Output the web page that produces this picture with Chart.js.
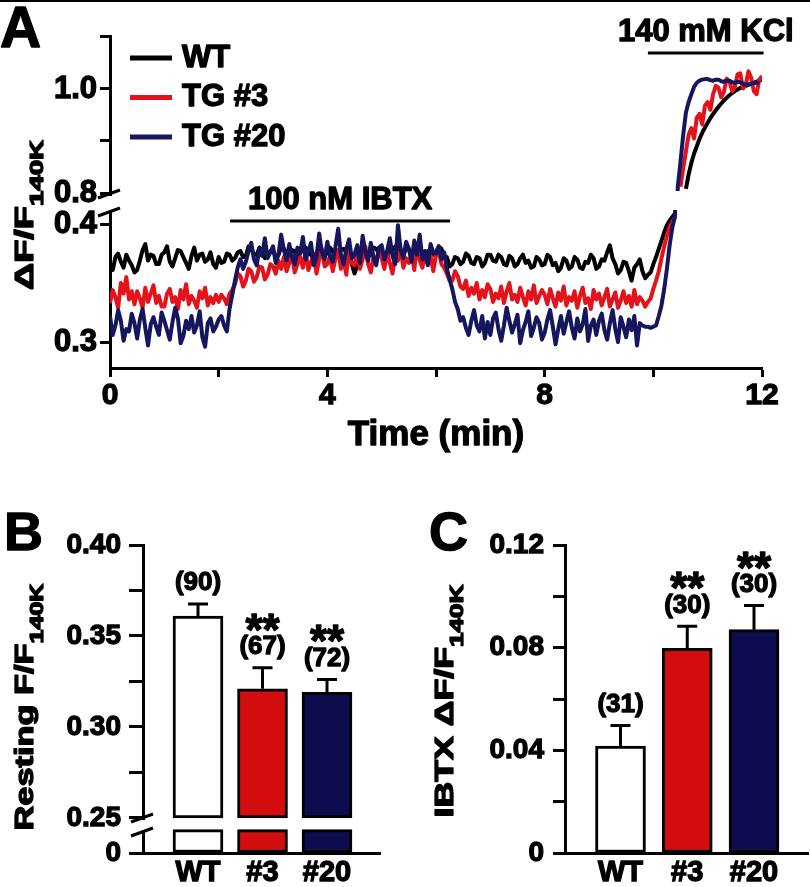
<!DOCTYPE html>
<html lang="en">
<head>
<meta charset="utf-8">
<title>IBTX response</title>
<script src="https://cdn.jsdelivr.net/npm/chart.js@4.4.1/dist/chart.umd.min.js"></script>
<style>
  html, body { margin: 0; padding: 0; background: #fff; }
  body { position: relative; width: 810px; height: 887px; overflow: hidden; }
  .top-rule { position: absolute; left: 0; top: 0; width: 810px; height: 2px; background: #000; }
  canvas { position: absolute; }
  #trace-chart { left: 0; top: 0; }
  #resting-chart { left: 0; top: 500px; }
  #ibtx-chart { left: 405px; top: 500px; }
</style>
</head>
<body>
<div class="top-rule"></div>
<canvas id="trace-chart" width="810" height="460"></canvas>
<canvas id="resting-chart" width="405" height="387"></canvas>
<canvas id="ibtx-chart" width="405" height="387"></canvas>
<script>
// --- panel A: traces, one reading every 0.05 min (null = inside the axis break) ---
const sampleTimes = [
  0.00, 0.05, 0.10, 0.15, 0.20, 0.25, 0.30, 0.35, 0.40, 0.45,
  0.50, 0.55, 0.60, 0.65, 0.70, 0.75, 0.80, 0.85, 0.90, 0.95,
  1.00, 1.05, 1.10, 1.15, 1.20, 1.25, 1.30, 1.35, 1.40, 1.45,
  1.50, 1.55, 1.60, 1.65, 1.70, 1.75, 1.80, 1.85, 1.90, 1.95,
  2.00, 2.05, 2.10, 2.15, 2.20, 2.25, 2.30, 2.35, 2.40, 2.45,
  2.50, 2.55, 2.60, 2.65, 2.70, 2.75, 2.80, 2.85, 2.90, 2.95,
  3.00, 3.05, 3.10, 3.15, 3.20, 3.25, 3.30, 3.35, 3.40, 3.45,
  3.50, 3.55, 3.60, 3.65, 3.70, 3.75, 3.80, 3.85, 3.90, 3.95,
  4.00, 4.05, 4.10, 4.15, 4.20, 4.25, 4.30, 4.35, 4.40, 4.45,
  4.50, 4.55, 4.60, 4.65, 4.70, 4.75, 4.80, 4.85, 4.90, 4.95,
  5.00, 5.05, 5.10, 5.15, 5.20, 5.25, 5.30, 5.35, 5.40, 5.45,
  5.50, 5.55, 5.60, 5.65, 5.70, 5.75, 5.80, 5.85, 5.90, 5.95,
  6.00, 6.05, 6.10, 6.15, 6.20, 6.25, 6.30, 6.35, 6.40, 6.45,
  6.50, 6.55, 6.60, 6.65, 6.70, 6.75, 6.80, 6.85, 6.90, 6.95,
  7.00, 7.05, 7.10, 7.15, 7.20, 7.25, 7.30, 7.35, 7.40, 7.45,
  7.50, 7.55, 7.60, 7.65, 7.70, 7.75, 7.80, 7.85, 7.90, 7.95,
  8.00, 8.05, 8.10, 8.15, 8.20, 8.25, 8.30, 8.35, 8.40, 8.45,
  8.50, 8.55, 8.60, 8.65, 8.70, 8.75, 8.80, 8.85, 8.90, 8.95,
  9.00, 9.05, 9.10, 9.15, 9.20, 9.25, 9.30, 9.35, 9.40, 9.45,
  9.50, 9.55, 9.60, 9.65, 9.70, 9.75, 9.80, 9.85, 9.90, 9.95,
  10.00, 10.05, 10.10, 10.15, 10.20, 10.25, 10.30, 10.35, 10.40, 10.45,
  10.50, 10.55, 10.60, 10.65, 10.70, 10.75, 10.80, 10.85, 10.90, 10.95,
  11.00, 11.05, 11.10, 11.15, 11.20, 11.25, 11.30, 11.35, 11.40, 11.45,
  11.50, 11.55, 11.60, 11.65, 11.70, 11.75, 11.80, 11.85, 11.90, 11.95,
  12.00
];
const wtTrace = [
  0.366, 0.361, 0.372, 0.375, 0.368, 0.363, 0.374, 0.369, 0.365, 0.359,
  0.361, 0.369, 0.378, 0.383, 0.369, 0.374, 0.373, 0.366, 0.366, 0.374,
  0.376, 0.381, 0.368, 0.364, 0.371, 0.378, 0.377, 0.372, 0.367, 0.362,
  0.373, 0.380, 0.369, 0.374, 0.375, 0.368, 0.370, 0.376, 0.366, 0.363,
  0.372, 0.367, 0.368, 0.375, 0.374, 0.369, 0.371, 0.376, 0.377, 0.372,
  0.373, 0.381, 0.379, 0.374, 0.374, 0.380, 0.376, 0.371, 0.372, 0.377,
  0.378, 0.372, 0.374, 0.380, 0.379, 0.375, 0.373, 0.378, 0.377, 0.371,
  0.375, 0.381, 0.380, 0.376, 0.374, 0.369, 0.372, 0.377, 0.378, 0.374,
  0.375, 0.380, 0.377, 0.372, 0.373, 0.378, 0.379, 0.376, 0.374, 0.366,
  0.358, 0.365, 0.372, 0.378, 0.377, 0.373, 0.374, 0.380, 0.379, 0.375,
  0.375, 0.370, 0.373, 0.377, 0.378, 0.381, 0.376, 0.372, 0.374, 0.379,
  0.379, 0.374, 0.375, 0.380, 0.377, 0.371, 0.373, 0.377, 0.378, 0.374,
  0.376, 0.381, 0.379, 0.373, 0.372, 0.364, 0.366, 0.372, 0.371, 0.366,
  0.368, 0.375, 0.373, 0.367, 0.366, 0.372, 0.371, 0.364, 0.367, 0.374,
  0.374, 0.369, 0.368, 0.374, 0.372, 0.366, 0.365, 0.373, 0.371, 0.364,
  0.366, 0.371, 0.374, 0.367, 0.369, 0.363, 0.364, 0.372, 0.370, 0.365,
  0.366, 0.374, 0.372, 0.365, 0.367, 0.360, 0.363, 0.371, 0.369, 0.362,
  0.364, 0.372, 0.370, 0.363, 0.362, 0.368, 0.367, 0.374, 0.371, 0.362,
  0.364, 0.370, 0.369, 0.376, 0.382, 0.371, 0.366, 0.358, 0.361, 0.368,
  0.367, 0.360, 0.352, 0.363, 0.366, 0.370, 0.360, 0.354, 0.357, 0.359,
  0.366, 0.372, 0.379, 0.386, 0.393, 0.399, 0.403, 0.406, 0.409, null,
  null, null, 0.808, 0.836, 0.858, 0.876, 0.890, 0.904, 0.916, 0.926,
  0.935, 0.944, 0.952, 0.959, 0.966, 0.972, 0.978, 0.983, 0.988, 0.992,
  0.996, 0.999, 1.002, 1.004, 1.006, 1.008, 1.010, 1.012, 1.014, 1.016,
  1.018
];
const tg3Trace = [
  0.333, 0.344, 0.338, 0.329, 0.350, 0.341, 0.355, 0.336, 0.343, 0.332,
  0.343, 0.337, 0.329, 0.346, 0.334, 0.341, 0.348, 0.333, 0.339, 0.330,
  0.330, 0.341, 0.345, 0.334, 0.338, 0.328, 0.344, 0.336, 0.349, 0.332,
  0.339, 0.335, 0.329, 0.343, 0.337, 0.346, 0.331, 0.338, 0.333, 0.340,
  0.334, 0.340, 0.337, 0.332, 0.341, 0.344, 0.349, 0.358, 0.356, 0.347,
  0.352, 0.362, 0.360, 0.351, 0.355, 0.364, 0.363, 0.353, 0.357, 0.366,
  0.364, 0.358, 0.369, 0.362, 0.372, 0.360, 0.367, 0.374, 0.359, 0.366,
  0.372, 0.363, 0.377, 0.361, 0.368, 0.375, 0.358, 0.370, 0.379, 0.364,
  0.366, 0.373, 0.360, 0.371, 0.378, 0.362, 0.369, 0.357, 0.380, 0.367,
  0.365, 0.374, 0.362, 0.370, 0.381, 0.366, 0.359, 0.373, 0.368, 0.377,
  0.371, 0.362, 0.376, 0.367, 0.358, 0.374, 0.369, 0.379, 0.363, 0.371,
  0.367, 0.375, 0.361, 0.383, 0.369, 0.363, 0.376, 0.366, 0.373, 0.360,
  0.374, 0.377, 0.366, 0.363, 0.358, 0.352, 0.352, 0.360, 0.356, 0.347,
  0.345, 0.352, 0.339, 0.346, 0.341, 0.350, 0.336, 0.344, 0.338, 0.349,
  0.345, 0.334, 0.341, 0.337, 0.347, 0.333, 0.343, 0.350, 0.336, 0.340,
  0.334, 0.346, 0.338, 0.331, 0.343, 0.336, 0.348, 0.333, 0.339, 0.344,
  0.340, 0.332, 0.345, 0.337, 0.330, 0.342, 0.335, 0.347, 0.331, 0.338,
  0.335, 0.343, 0.329, 0.339, 0.346, 0.333, 0.337, 0.328, 0.344, 0.336,
  0.341, 0.331, 0.338, 0.345, 0.330, 0.336, 0.342, 0.329, 0.335, 0.343,
  0.333, 0.339, 0.330, 0.344, 0.332, 0.338, 0.335, 0.330, 0.334, 0.337,
  0.345, 0.352, 0.360, 0.371, 0.381, 0.390, 0.397, 0.402, 0.406, null,
  0.812, 0.848, 0.880, 0.912, 0.925, 0.905, 0.945, 0.952, 0.932, 0.968,
  0.975, 0.960, 0.990, 1.006, 1.002, 0.984, 0.995, 1.020, 1.015, 0.996,
  1.004, 1.028, 1.030, 1.001, 1.008, 1.034, 1.022, 0.996, 0.990, 1.018,
  1.025
];
const tg20Trace = [
  0.322, 0.306, 0.314, 0.327, 0.318, 0.301, 0.311, 0.309, 0.324, 0.316,
  0.303, 0.319, 0.328, 0.312, 0.297, 0.315, 0.321, 0.313, 0.306, 0.325,
  0.318, 0.310, 0.302, 0.317, 0.329, 0.320, 0.299, 0.305, 0.318, 0.311,
  0.322, 0.308, 0.314, 0.326, 0.304, 0.296, 0.316, 0.320, 0.309, 0.313,
  0.319, 0.322, 0.314, 0.309, 0.328, 0.340, 0.352, 0.363, 0.370, 0.362,
  0.368, 0.377, 0.384, 0.370, 0.365, 0.379, 0.373, 0.388, 0.371, 0.376,
  0.381, 0.367, 0.374, 0.391, 0.378, 0.369, 0.383, 0.372, 0.366, 0.380,
  0.375, 0.389, 0.370, 0.377, 0.384, 0.365, 0.372, 0.392, 0.376, 0.370,
  0.385, 0.373, 0.368, 0.381, 0.396, 0.374, 0.366, 0.379, 0.387, 0.371,
  0.374, 0.382, 0.367, 0.390, 0.376, 0.369, 0.384, 0.372, 0.365, 0.380,
  0.382, 0.370, 0.377, 0.388, 0.373, 0.366, 0.399, 0.378, 0.371, 0.385,
  0.379, 0.368, 0.386, 0.374, 0.391, 0.370, 0.377, 0.365, 0.383, 0.376,
  0.375, 0.381, 0.370, 0.376, 0.362, 0.353, 0.345, 0.334, 0.328, 0.318,
  0.321, 0.312, 0.306, 0.318, 0.327, 0.314, 0.309, 0.322, 0.303, 0.317,
  0.306, 0.320, 0.325, 0.311, 0.301, 0.314, 0.329, 0.318, 0.308, 0.315,
  0.323, 0.299, 0.310, 0.317, 0.326, 0.305, 0.312, 0.321, 0.316, 0.302,
  0.308, 0.319, 0.327, 0.313, 0.298, 0.311, 0.322, 0.307, 0.317, 0.326,
  0.312, 0.303, 0.320, 0.309, 0.315, 0.328, 0.301, 0.314, 0.319, 0.306,
  0.318, 0.324, 0.310, 0.302, 0.316, 0.327, 0.311, 0.300, 0.321, 0.313,
  0.304, 0.319, 0.310, 0.322, 0.297, 0.316, 0.314, 0.313, 0.313, 0.312,
  0.313, 0.314, 0.322, 0.331, 0.345, 0.362, 0.382, 0.397, 0.407, 0.812,
  0.860, 0.912, 0.955, 0.975, 0.990, 1.004, 1.012, 1.016, 1.018, 1.019,
  1.019, 1.017, 1.016, 1.018, 1.018, 1.015, 1.014, 1.016, 1.016, 1.013,
  1.012, 1.014, 1.013, 1.010, 1.008, 1.009, 1.010, 1.012, 1.012, 1.011,
  null
];
const traceNames = ['WT', 'TG #3', 'TG #20'];
const timeTicks = [0, 2, 4, 6, 8, 10, 12];
const timeLabels = [0, 4, 8, 12];
const lowerTicks = [0.3, 0.4];
const upperTicks = [0.8, 0.9, 1.0, 1.1];
const upperLabels = [0.8, 1.0];
const treatments = [
  { label: '100 nM IBTX', start: 2.21, end: 6.26, level: 0.4025, axis: 'yLow' },
  { label: '140 mM KCl', start: 9.9, end: 12.03, level: 1.069, axis: 'yHigh' }
];

// --- panels B and C ---
const groups = ['WT', '#3', '#20'];
const restingMean = [0.361, 0.321, 0.319];
const restingSem = [0.0066, 0.0116, 0.0071];
const restingN = [90, 67, 72];
const restingStars = ['', '**', '**'];
const restingBreak = 0.25;
const restingTicks = [0.25, 0.275, 0.30, 0.325, 0.35, 0.375, 0.40];
const restingLabels = [0.25, 0.30, 0.35, 0.40];

const ibtxMean = [0.0417, 0.0797, 0.0870];
const ibtxSem = [0.0080, 0.0086, 0.0094];
const ibtxN = [31, 30, 30];
const ibtxStars = ['', '**', '**'];
const ibtxTicks = [0, 0.02, 0.04, 0.06, 0.08, 0.10, 0.12];
const ibtxLabels = [0, 0.04, 0.08, 0.12];

const colors = { wt: '#000000', tg3: '#e3121b', tg20: '#16165e' };
const barColors = ['#ffffff', '#d30d0d', '#0c0c4e'];

const FONT = "'Liberation Sans', Arial, sans-serif";
const STROKE = 1.3;   // makes the bold face a bit heavier, like the figure
Chart.defaults.font.family = FONT;
Chart.defaults.font.weight = 'bold';
Chart.defaults.color = '#000';

const font = (size) => ({ family: FONT, size, weight: 'bold' });

function drawText(ctx, text, x, y, size, align = 'center', baseline = 'middle') {
  ctx.save();
  ctx.font = `bold ${size}px ${FONT}`;
  ctx.fillStyle = '#000';
  ctx.strokeStyle = '#000';
  ctx.lineWidth = STROKE;
  ctx.lineJoin = 'round';
  ctx.textAlign = align;
  ctx.textBaseline = baseline;
  ctx.strokeText(text, x, y);
  ctx.fillText(text, x, y);
  ctx.restore();
}

// rotated axis title with a subscript, stretched to the given length
function drawVerticalTitle(ctx, main, sub, baselineX, centerY, length, mainSize, subSize) {
  ctx.save();
  ctx.fillStyle = '#000';
  ctx.strokeStyle = '#000';
  ctx.lineWidth = STROKE;
  ctx.lineJoin = 'round';
  ctx.textAlign = 'left';
  ctx.textBaseline = 'alphabetic';
  ctx.font = `bold ${mainSize}px ${FONT}`;
  const wMain = ctx.measureText(main).width;
  ctx.font = `bold ${subSize}px ${FONT}`;
  const wSub = ctx.measureText(sub).width;
  const stretch = length / (wMain + wSub);
  ctx.translate(baselineX, centerY);
  ctx.rotate(-Math.PI / 2);
  ctx.scale(stretch, 1);
  const start = -(wMain + wSub) / 2;
  ctx.font = `bold ${mainSize}px ${FONT}`;
  ctx.strokeText(main, start, 0);
  ctx.fillText(main, start, 0);
  ctx.font = `bold ${subSize}px ${FONT}`;
  ctx.strokeText(sub, start + wMain, 10);
  ctx.fillText(sub, start + wMain, 10);
  ctx.restore();
}

const labelIf = (list, digits) => (v) =>
  list.some(l => Math.abs(l - v) < 1e-9) ? (v === 0 ? '0' : v.toFixed(digits)) : '';

const tickFont = size => ({ font: font(size), textStrokeColor: '#000', textStrokeWidth: STROKE });

function yAxis({ min, max, ticks, labels, digits, width, size, tickLength, padding, stack, stackWeight }) {
  return {
    type: 'linear',
    position: 'left',
    min, max, stack, stackWeight,
    afterBuildTicks: s => { s.ticks = ticks.map(value => ({ value })); },
    afterFit: s => { s.width = width; },
    ticks: { callback: labelIf(labels, digits), ...tickFont(size), padding, autoSkip: false },
    grid: { drawOnChartArea: false, tickLength, tickWidth: 3, tickColor: '#000' },
    border: { color: '#000', width: 3 }
  };
}

// each stacked y segment only shows its own part of a line
function segmentClip(insets) {
  return {
    id: 'segmentClip',
    beforeDatasetDraw(chart, args) {
      const ds = chart.data.datasets[args.index];
      const inset = insets[ds.yAxisID];
      if (!inset) return;
      const s = chart.scales[ds.yAxisID];
      const ctx = chart.ctx;
      ctx.save();
      ctx.beginPath();
      ctx.rect(0, s.top + inset[0], chart.width, s.bottom - s.top - inset[0] - inset[1]);
      ctx.clip();
    },
    afterDatasetDraw(chart, args) {
      const ds = chart.data.datasets[args.index];
      if (insets[ds.yAxisID]) chart.ctx.restore();
    }
  };
}

function axisBreak(upperId, half) {
  return {
    id: 'axisBreak',
    afterDraw(chart) {
      const { ctx } = chart;
      const x = chart.chartArea.left;
      const y = chart.scales[upperId].bottom;
      ctx.save();
      ctx.fillStyle = '#fff';
      ctx.fillRect(x - 4, y - half + 2, 8, 2 * half - 4);
      ctx.strokeStyle = '#000';
      ctx.lineWidth = 3;
      [-half, half].forEach(d => {
        ctx.beginPath();
        ctx.moveTo(x - 12, y + d + 4);
        ctx.lineTo(x + 10, y + d - 4);
        ctx.stroke();
      });
      ctx.restore();
    }
  };
}

function statsMarks(axisId, means, sems, counts, stars) {
  return {
    id: 'statsMarks',
    afterDatasetsDraw(chart) {
      const { ctx, scales } = chart;
      const xs = scales.x, ys = scales[axisId];
      ctx.save();
      ctx.strokeStyle = '#000';
      ctx.lineWidth = 3;
      means.forEach((m, i) => {
        const px = xs.getPixelForValue(i + 1);
        const top = ys.getPixelForValue(m + sems[i]);
        const base = ys.getPixelForValue(m);
        ctx.beginPath();
        ctx.moveTo(px, base);
        ctx.lineTo(px, top);
        ctx.moveTo(px - 10, top);
        ctx.lineTo(px + 10, top);
        ctx.stroke();
        drawText(ctx, `(${counts[i]})`, px, top - 21, 26);
        if (stars[i]) drawText(ctx, stars[i], px, top - 23, 44, 'center', 'alphabetic');
      });
      ctx.restore();
    }
  };
}

// ---------- A ----------
const tracePoints = values => sampleTimes.map((t, i) => ({ x: t, y: values[i] }));
const traceSets = (label, values, color, order) => ['yLow', 'yHigh'].map(axis => ({
  label,
  data: tracePoints(values),
  yAxisID: axis,
  borderColor: color,
  borderWidth: 4,
  borderJoinStyle: 'round',
  pointRadius: 0,
  tension: 0,
  spanGaps: false,
  order
}));

const traceDecor = {
  id: 'traceDecor',
  afterDraw(chart) {
    const { ctx, scales, chartArea } = chart;
    drawText(ctx, 'A', 0, 47, 57, 'left', 'alphabetic');

    const lx = chartArea.left + 20;
    [colors.wt, colors.tg3, colors.tg20].forEach((c, i) => {
      const y = 58 + i * 39.5;
      ctx.save();
      ctx.strokeStyle = c;
      ctx.lineWidth = 5;
      ctx.beginPath();
      ctx.moveTo(lx, y);
      ctx.lineTo(lx + 42, y);
      ctx.stroke();
      ctx.restore();
      drawText(ctx, traceNames[i], lx + 52, y, 31, 'left');
    });

    treatments.forEach(t => {
      const y = scales[t.axis].getPixelForValue(t.level);
      const x1 = scales.x.getPixelForValue(t.start);
      const x2 = scales.x.getPixelForValue(t.end);
      ctx.save();
      ctx.strokeStyle = '#000';
      ctx.lineWidth = 3;
      ctx.beginPath();
      ctx.moveTo(x1, y);
      ctx.lineTo(x2, y);
      ctx.stroke();
      ctx.restore();
      drawText(ctx, t.label, (x1 + x2) / 2, y - 21, 31);
    });

    drawText(ctx, 'Time (min)', (chartArea.left + chartArea.right) / 2, 435, 35);
    drawVerticalTitle(ctx, '\u0394F/F', '140K', 33, 215, 150, 26, 19);
  }
};

new Chart(document.getElementById('trace-chart'), {
  type: 'line',
  data: {
    datasets: [
      ...traceSets(traceNames[0], wtTrace, colors.wt, 3),
      ...traceSets(traceNames[1], tg3Trace, colors.tg3, 2),
      ...traceSets(traceNames[2], tg20Trace, colors.tg20, 1)
    ]
  },
  options: {
    responsive: false,
    animation: false,
    events: [],
    layout: { padding: { left: 0, top: 36, right: 48, bottom: 0 } },
    plugins: { legend: { display: false }, tooltip: { enabled: false } },
    scales: {
      x: {
        type: 'linear',
        min: 0,
        max: 12,
        afterBuildTicks: s => { s.ticks = timeTicks.map(value => ({ value })); },
        afterFit: s => { s.height = 92; },
        ticks: {
          callback: v => timeLabels.includes(v) ? String(v) : '',
          ...tickFont(30), padding: 1, maxRotation: 0, autoSkip: false
        },
        grid: { drawOnChartArea: false, tickLength: 9, tickWidth: 3, tickColor: '#000' },
        border: { color: '#000', width: 3 }
      },
      yLow: yAxis({ min: 0.27797, max: 0.4178, ticks: lowerTicks, labels: lowerTicks, digits: 1,
        width: 110, size: 31, tickLength: 10, padding: 3, stack: 'trace', stackWeight: 165 }),
      yHigh: yAxis({ min: 0.78077, max: 1.10192, ticks: upperTicks, labels: upperLabels, digits: 1,
        width: 110, size: 31, tickLength: 10, padding: 3, stack: 'trace', stackWeight: 167 })
    }
  },
  plugins: [segmentClip({ yLow: [7, -6], yHigh: [-15, 12] }), traceDecor, axisBreak('yHigh', 9)]
});

// ---------- B ----------
const barX = (xmin, xmax) => ({
  type: 'linear',
  min: xmin,
  max: xmax,
  offset: false,
  afterBuildTicks: s => { s.ticks = groups.map((g, i) => ({ value: i + 1 })); },
  afterFit: s => { s.height = 34; },
  ticks: { callback: v => groups[v - 1] ?? '', ...tickFont(29), padding: 3, maxRotation: 0, autoSkip: false },
  grid: { display: false, drawTicks: false },
  border: { color: '#000', width: 3 }
});

const barStyle = {
  backgroundColor: barColors,
  borderColor: '#000',
  borderWidth: 3,
  borderSkipped: false,
  barThickness: 50,
  grouped: false
};

new Chart(document.getElementById('resting-chart'), {
  type: 'bar',
  data: {
    datasets: [
      { ...barStyle, yAxisID: 'yHigh', data: groups.map((g, i) => ({ x: i + 1, y: [restingBreak, restingMean[i]] })) },
      { ...barStyle, yAxisID: 'yLow', data: groups.map((g, i) => ({ x: i + 1, y: [0, restingBreak] })) }
    ]
  },
  options: {
    responsive: false,
    animation: false,
    events: [],
    layout: { padding: { left: 0, top: 45, right: 25, bottom: 0 } },
    plugins: { legend: { display: false }, tooltip: { enabled: false } },
    scales: {
      x: barX(0.1473, 3.8217),
      yLow: yAxis({ min: 0, max: 0.3, ticks: [0], labels: [0], digits: 2,
        width: 143, size: 28, tickLength: 14, padding: 8, stack: 'rest', stackWeight: 28 }),
      yHigh: yAxis({ min: 0.24615, max: 0.40, ticks: restingTicks, labels: restingLabels, digits: 2,
        width: 143, size: 28, tickLength: 14, padding: 8, stack: 'rest', stackWeight: 280 })
    }
  },
  plugins: [
    statsMarks('yHigh', restingMean, restingSem, restingN, restingStars),
    axisBreak('yHigh', 7),
    {
      id: 'restingDecor',
      afterDraw(chart) {
        drawText(chart.ctx, 'B', 4, 50, 54, 'left', 'alphabetic');
        drawVerticalTitle(chart.ctx, 'Resting F/F', '140K', 33, 207, 247, 26, 19);
      }
    }
  ]
});

// ---------- C ----------
new Chart(document.getElementById('ibtx-chart'), {
  type: 'bar',
  data: {
    datasets: [
      { ...barStyle, yAxisID: 'y', data: groups.map((g, i) => ({ x: i + 1, y: ibtxMean[i] })) }
    ]
  },
  options: {
    responsive: false,
    animation: false,
    events: [],
    layout: { padding: { left: 0, top: 45, right: 2, bottom: 0 } },
    plugins: { legend: { display: false }, tooltip: { enabled: false } },
    scales: {
      x: barX(0.1685, 3.809),
      y: yAxis({ min: 0, max: 0.12, ticks: ibtxTicks, labels: ibtxLabels, digits: 2,
        width: 160, size: 28, tickLength: 12, padding: 9 })
    }
  },
  plugins: [
    statsMarks('y', ibtxMean, ibtxSem, ibtxN, ibtxStars),
    {
      id: 'ibtxDecor',
      afterDraw(chart) {
        drawText(chart.ctx, 'C', 24, 50, 54, 'left', 'alphabetic');
        drawVerticalTitle(chart.ctx, 'IBTX \u0394F/F', '140K', 48, 201, 233, 26, 19);
      }
    }
  ]
});
</script>
</body>
</html>
